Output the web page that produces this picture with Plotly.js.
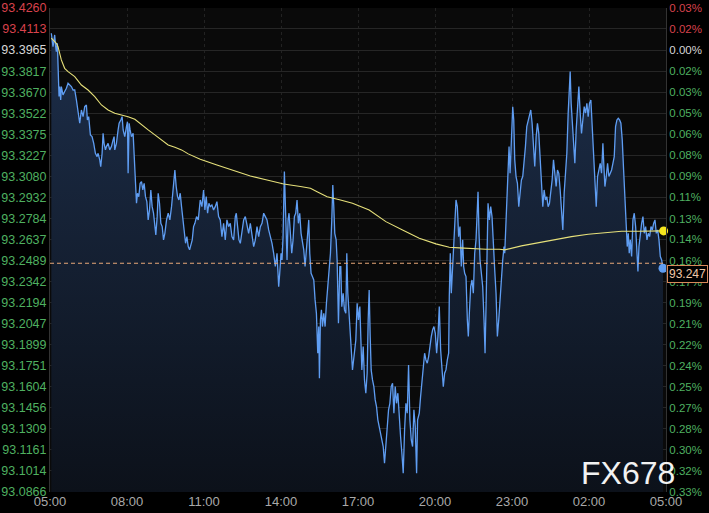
<!DOCTYPE html>
<html>
<head>
<meta charset="utf-8">
<script src="https://cdn.plot.ly/plotly-3.0.1.min.js"></script>
<style>
html,body{margin:0;padding:0;background:#000;}
#chart{width:709px;height:513px;}
</style>
</head>
<body>
<div id="chart"></div>
<script>
// ---- data: [minutes since 05:00, price] ----
const pricePoints = [
[3.1,93.4083],[5.5,93.4012],[7.0,93.3989],[9.4,93.4036],[10.9,93.4071],[13.3,93.3989],[14.8,93.3954],[17.2,93.4012],[18.7,93.3849],[21.1,93.3639],
[22.6,93.3709],[25.0,93.3615],[26.5,93.3709],[30.4,93.3650],[34.3,93.3674],[38.3,93.3697],[42.2,93.3732],[46.1,93.3720],[50.0,93.3709],[53.9,93.3685],
[57.8,93.3685],[61.7,93.3615],[64.0,93.3568],[67.1,93.3522],[69.5,93.3452],[73.4,93.3545],[77.3,93.3498],[81.2,93.3568],[85.1,93.3580],[87.4,93.3475],
[90.5,93.3498],[94.4,93.3370],[98.3,93.3358],[102.2,93.3311],[106.1,93.3241],[110.1,93.3218],[112.4,93.3241],[116.3,93.3195],[118.6,93.3148],[121.8,93.3241],
[124.1,93.3381],[126.4,93.3311],[129.6,93.3265],[131.9,93.3288],[135.8,93.3311],[139.7,93.3265],[143.6,93.3288],[147.5,93.3335],[149.9,93.3358],[151.4,93.3265],
[155.3,93.3311],[159.2,93.3405],[161.6,93.3452],[165.5,93.3475],[168.6,93.3498],[171.0,93.3405],[174.8,93.3358],[178.7,93.3428],[181.1,93.3463],[182.6,93.3101],
[185.0,93.3452],[187.3,93.3405],[190.4,93.3358],[194.3,93.3381],[196.7,93.3195],[199.8,93.3078],[202.2,93.2891],[204.5,93.2961],[207.6,93.2937],[210.7,93.3031],
[213.9,93.3043],[217.0,93.2984],[220.1,93.3031],[223.2,93.2937],[226.4,93.2902],[229.5,93.2774],[232.6,93.2844],[235.7,93.2984],[238.8,93.2867],[242.0,93.2821],
[245.1,93.2750],[247.4,93.2669],[250.5,93.2797],[252.9,93.2961],[256.0,93.2891],[259.1,93.2750],[262.3,93.2727],[265.4,93.2634],[268.5,93.2680],[272.4,93.2774],
[276.3,93.2821],[280.2,93.2774],[284.1,93.2867],[288.0,93.3008],[291.9,93.3124],[295.0,93.3008],[298.2,93.2937],[301.3,93.2914],[304.4,93.2961],[307.5,93.2867],
[311.4,93.2774],[313.8,93.2680],[316.9,93.2610],[320.0,93.2657],[323.1,93.2587],[326.3,93.2564],[329.4,93.2610],[332.5,93.2634],[335.6,93.2727],[338.7,93.2750],
[342.6,93.2797],[346.6,93.2774],
[351.2,93.2914],[355.1,93.2867],[359.0,93.2984],[362.1,93.2844],[365.2,93.2937],[368.4,93.2821],[371.5,93.2891],[374.6,93.2867],[378.5,93.2879],[382.4,93.2844],
[386.3,93.2867],[390.2,93.2902],[394.1,93.2797],[398.0,93.2774],[401.9,93.2657],[405.8,93.2750],[409.7,93.2634],[413.6,93.2774],[417.5,93.2727],[421.4,93.2750],
[425.3,93.2657],[429.3,93.2634],[433.2,93.2797],[435.5,93.2821],[438.6,93.2727],[441.7,93.2634],[444.9,93.2610],[448.8,93.2680],[452.7,93.2774],[456.6,93.2797],
[460.5,93.2727],[464.4,93.2680],[468.3,93.2750],[472.2,93.2657],[476.1,93.2587],[480.0,93.2634],[483.9,93.2727],[487.8,93.2657],[491.7,93.2727],[495.6,93.2750],
[499.5,93.2821],[503.4,93.2797],[507.3,93.2774],[511.2,93.2704],[515.1,93.2657],[519.0,93.2610],[522.9,93.2540],[526.8,93.2447],[530.7,93.2540],[534.6,93.2306],
[537.0,93.2400],[540.1,93.2540],[542.4,93.2493],[544.8,93.2657],[547.9,93.3113],[551.0,93.2867],[554.1,93.2493],[556.5,93.2774],[558.8,93.2821],[561.9,93.2680],
[565.1,93.2540],[568.2,93.2634],[571.3,93.2797],[574.4,93.2821],[577.5,93.2914],[580.7,93.2750],[583.8,93.2821],[586.9,93.2680],[590.0,93.2634],[593.2,93.2564],
[596.3,93.2447],[599.4,93.2587],[602.5,93.2704],[604.9,93.2774],[607.2,93.2540],[610.3,93.2400],[613.4,93.2377],[616.6,93.2353],[619.7,93.2213],[622.8,93.2119],
[625.9,93.1839],[628.3,93.2026],[629.8,93.1664],[632.2,93.2073],[634.5,93.2143],[636.9,93.2026],[640.0,93.2119],[643.1,93.2026],[646.2,93.2190],[649.4,93.2330],
[652.5,93.2400],[655.6,93.2540],[658.7,93.2774],[661.1,93.3019],[663.4,93.2867],[665.7,93.2680],[668.9,93.2634],[671.2,93.2493],[674.3,93.2049],[677.5,93.2447],
[679.8,93.2447],[682.1,93.2166],[685.3,93.2260],[688.4,93.2143],[691.5,93.2119],[693.8,93.2540],[696.2,93.2260],[699.3,93.2073],[702.4,93.1932],[704.8,93.1839],
[707.1,93.1722],[711.0,93.1816],[714.9,93.1932],[718.0,93.2190],[721.1,93.2073],[724.3,93.2166],[726.6,93.1839],[729.0,93.1722],[732.1,93.1886],[735.2,93.1652],
[738.3,93.1559],[741.4,93.1699],[743.8,93.2073],[746.1,93.2283],[748.5,93.1956],[750.8,93.1722],[753.9,93.1652],[757.1,93.1605],[760.2,93.1512],[763.3,93.1465],
[766.4,93.1372],[769.5,93.1325],[772.7,93.1278],[775.8,93.1255],[778.9,93.1185],[782.0,93.1068],[785.2,93.1208],[788.3,93.1278],[791.4,93.1442],[794.5,93.1488],
[797.6,93.1605],[800.8,93.1629],[803.9,93.1418],[807.0,93.1605],[810.1,93.1488],[813.2,93.1559],[816.4,93.1372],[819.5,93.1255],[822.6,93.1138],[825.7,93.0998],
[828.9,93.1302],[832.0,93.1488],[835.1,93.1418],[838.2,93.1757],[841.3,93.1372],[844.5,93.1231],[847.6,93.1185],[850.7,93.1442],[853.8,93.1325],[857.0,93.0998],
[859.3,93.1372],[863.2,93.1418],[866.3,93.1535],[869.4,93.1652],[872.6,93.1746],[875.7,93.1839],[878.8,93.1792],[881.9,93.1769],[885.1,93.1816],[888.2,93.1909],
[891.3,93.1956],[894.4,93.2003],[897.5,93.2026],[900.7,93.1979],[903.8,93.1839],[906.9,93.1956],[910.0,93.2166],[913.2,93.1862],[916.3,93.1722],[919.4,93.1605],
[922.5,93.1699],[925.6,93.1722],[928.8,93.1792],[931.9,93.1839],[933.4,93.2236],[935.8,93.2540],[938.1,93.2260],[940.5,93.2400],[942.8,93.2587],[945.9,93.2727],
[949.1,93.2914],[952.2,93.2867],[955.3,93.2657],[958.4,93.2727],[961.5,93.2447],[964.7,93.2634],[967.0,93.2447],[969.4,93.2400],[972.5,93.2377],[975.6,93.2073],
[977.9,93.1956],[980.3,93.2119],[983.4,93.2306],[986.5,93.2353],[989.6,93.2260],[992.8,93.2540],[995.9,93.2634],[998.2,93.2797],[1000.6,93.2972],[1002.9,93.2680],
[1005.3,93.2493],[1008.4,93.2400],[1011.5,93.2306],[1014.6,93.2073],[1017.0,93.1839],[1019.3,93.2166],[1021.6,93.2634],[1024.0,93.2891],[1027.1,93.2774],[1030.2,93.2867],
[1033.3,93.2797],[1036.5,93.2540],[1039.6,93.2423],[1042.7,93.2260],[1045.8,93.1956],[1049.0,93.2073],[1052.1,93.2190],[1055.2,93.2353],[1058.3,93.2493],[1061.4,93.2587],
[1063.0,93.2540],[1066.9,93.2867],[1070.8,93.3148],[1073.1,93.3288],[1075.5,93.3101],[1078.6,93.3358],[1081.7,93.3568],[1084.1,93.3475],[1086.4,93.3195],[1089.5,93.3078],
[1092.7,93.3031],[1095.8,93.2867],[1098.9,93.2961],[1102.0,93.3054],[1105.1,93.3078],[1108.3,93.3171],[1111.4,93.3288],[1114.5,93.3428],[1117.6,93.3475],[1120.8,93.3522],
[1123.9,93.3545],[1127.0,93.3452],[1130.1,93.3311],[1133.2,93.3148],[1136.4,93.3358],[1139.5,93.3452],[1142.6,93.3381],[1145.7,93.3195],[1148.9,93.2961],[1152.0,93.2867],
[1155.1,93.2984],[1158.2,93.2914],[1161.3,93.2937],[1164.5,93.2867],[1167.6,93.2891],[1170.7,93.2961],[1173.8,93.3054],[1177.0,93.3195],[1180.1,93.3078],[1183.2,93.3008],
[1186.3,93.3124],[1189.4,93.3101],[1192.6,93.2984],[1195.7,93.2867],[1198.8,93.2704],[1201.9,93.2961],[1205.1,93.3101],[1208.2,93.3241],[1211.3,93.3522],[1213.6,93.3639],
[1216.0,93.3814],[1218.3,93.3592],[1220.7,93.3475],[1223.8,93.3288],[1226.9,93.3171],[1230.0,93.3405],[1233.1,93.3592],[1236.3,93.3709],[1239.4,93.3522],[1242.5,93.3381],
[1245.6,93.3475],[1248.8,93.3568],[1251.9,93.3522],[1255.0,93.3592],[1258.1,93.3498],[1261.2,93.3592],[1264.4,93.3615],[1267.5,93.3405],[1270.6,93.3195],[1273.7,93.3008],
[1276.9,93.2867],[1280.0,93.3078],[1283.1,93.3124],[1286.2,93.3171],[1289.3,93.3101],[1292.5,93.3311],[1294.8,93.3148],[1297.2,93.3008],[1300.3,93.3078],[1303.4,93.3171],
[1306.5,93.3078],[1309.6,93.3101],[1312.8,93.3124],[1315.9,93.3171],[1319.0,93.3218],[1322.1,93.3428],[1325.3,93.3475],[1328.4,93.3487],[1331.5,93.3475],[1334.6,93.3452],
[1337.7,93.3335],[1340.9,93.3124],[1344.0,93.2961],[1347.1,93.2774],[1349.4,93.2587],[1351.8,93.2680],[1354.1,93.2540],[1356.5,93.2634],[1359.6,93.2517],[1362.7,93.2774],
[1365.8,93.2821],[1369.0,93.2727],[1372.1,93.2540],[1374.4,93.2412],[1376.8,93.2587],[1379.9,93.2680],[1383.0,93.2750],[1386.1,93.2797],[1389.2,93.2680],[1392.4,93.2727],
[1395.5,93.2634],[1398.6,93.2680],[1401.7,93.2657],[1404.9,93.2727],[1408.0,93.2704],[1411.1,93.2750],[1414.2,93.2774],[1417.3,93.2680],[1420.5,93.2704],[1423.6,93.2634],
[1426.7,93.2517],[1429.8,93.2493],[1433.0,93.2435]
];
// average price line: [minutes since 05:00, price]
const avgPoints = [
[3.1,93.4048],[14.8,93.4012],[18.7,93.3989],[26.5,93.3896],[34.3,93.3837],[42.2,93.3814],[57.8,93.3779],[73.4,93.3720],[89.0,93.3685],[104.6,93.3639],
[120.2,93.3580],[135.8,93.3545],[151.4,93.3522],[167.0,93.3510],[182.6,93.3498],[198.3,93.3480],[213.9,93.3440],[229.5,93.3405],[245.1,93.3370],[260.7,93.3335],
[276.3,93.3300],[291.9,93.3283],[307.5,93.3265],[323.1,93.3237],[338.7,93.3213],[351.2,93.3199],[390.2,93.3159],[429.3,93.3120],[468.3,93.3082],[507.3,93.3054],
[546.3,93.3026],[585.4,93.3008],[608.8,93.2996],[624.4,93.2972],[647.8,93.2937],[679.0,93.2914],[707.1,93.2891],[746.1,93.2844],[785.2,93.2762],[824.2,93.2704],
[863.2,93.2645],[902.2,93.2606],[933.4,93.2582],[956.9,93.2578],[980.3,93.2573],[1019.3,93.2568],[1050.5,93.2568],[1063.0,93.2564],[1102.0,93.2592],[1141.1,93.2615],
[1180.1,93.2634],[1219.1,93.2657],[1258.1,93.2673],[1297.2,93.2685],[1336.2,93.2694],[1375.2,93.2694],[1414.2,93.2697],[1434.5,93.2697]
];
const lastPrice = 93.247;
const priceTicks = ['93.4260','93.4113','93.3965','93.3817','93.3670','93.3522','93.3375','93.3227','93.3080','93.2932','93.2784','93.2637',
                    '93.2489','93.2342','93.2194','93.2047','93.1899','93.1751','93.1604','93.1456','93.1309','93.1161','93.1014','93.0866'];
const pctTicks = ['0.03%','0.02%','0.00%','0.02%','0.03%','0.05%','0.06%','0.08%','0.09%','0.11%','0.13%','0.14%',
                  '0.16%','0.17%','0.19%','0.21%','0.22%','0.24%','0.25%','0.27%','0.28%','0.30%','0.32%','0.33%'];
const timeTickVals = [0,180,360,540,720,900,1080,1260,1440];
const timeTickText = ['05:00','08:00','11:00','14:00','17:00','20:00','23:00','02:00','05:00'];

// ---- styling ----
const RED = '#d8424c', WHITE = '#d6d6d6', GREEN = '#4fb060';
function colorFor(i){ return i < 2 ? RED : (i === 2 ? WHITE : GREEN); }
const tickVals = priceTicks.map(Number);
const leftText = priceTicks.map((t,i)=>'<span style="color:'+colorFor(i)+'">'+t+'</span>');
const rightText = pctTicks.map((t,i)=>'<span style="color:'+colorFor(i)+'">'+t+'</span>');
const yMin = tickVals[tickVals.length-1], yMax = tickVals[0];

const px = pricePoints.map(p=>p[0]), py = pricePoints.map(p=>p[1]);
const ax = avgPoints.map(p=>p[0]), ay = avgPoints.map(p=>p[1]);

const traces = [
  {x:px, y:py, type:'scatter', mode:'lines', line:{color:'#5f9df2', width:1.3},
   fill:'tozeroy',
   fillgradient:{type:'vertical', start:yMin, stop:93.40,
     colorscale:[[0,'rgba(12,17,26,1)'],[1,'rgba(28,45,72,1)']]},
   hoverinfo:'skip'},
  {x:ax, y:ay, type:'scatter', mode:'lines', line:{color:'#e6e07a', width:1.1}, hoverinfo:'skip'},
  {x:[ax[ax.length-1]], y:[ay[ay.length-1]], type:'scatter', mode:'markers', cliponaxis:false,
   marker:{color:'#f5e51e', size:9}, hoverinfo:'skip'},
  {x:[px[px.length-1]], y:[py[py.length-1]], type:'scatter', mode:'markers', cliponaxis:false,
   marker:{color:'#5f9df2', size:9}, hoverinfo:'skip'},
  {x:[0,1440], y:[yMin,yMax], yaxis:'y2', type:'scatter', mode:'markers', marker:{opacity:0}, hoverinfo:'skip'}
];

const layout = {
  width:709, height:513,
  margin:{l:50, r:43, t:8, b:21},
  paper_bgcolor:'#000000', plot_bgcolor:'#0a0a0a',
  showlegend:false,
  font:{family:'"Liberation Sans", Arial, sans-serif'},
  xaxis:{range:[0,1440], tickmode:'array', tickvals:timeTickVals, ticktext:timeTickText,
         showgrid:true, gridcolor:'#222222', griddash:'dot', gridwidth:1,
         zeroline:false, showline:false, ticks:'',
         tickfont:{family:'"Liberation Sans Narrow", "Arial Narrow", sans-serif', size:13, color:'#a9a9a9'}},
  yaxis:{range:[yMin,yMax], tickmode:'array', tickvals:tickVals, ticktext:leftText,
         showgrid:true, gridcolor:'#262626', gridwidth:1, zeroline:false,
         showline:true, linecolor:'#333333', ticks:'',
         tickfont:{size:12.5, color:GREEN}},
  yaxis2:{range:[yMin,yMax], overlaying:'y', side:'right', tickmode:'array', tickvals:tickVals, ticktext:rightText,
          showgrid:false, zeroline:false, showline:true, linecolor:'#333333', ticks:'',
          tickfont:{size:11.5, color:GREEN}},
  shapes:[
    {type:'line', xref:'paper', x0:0, x1:1, yref:'y', y0:lastPrice, y1:lastPrice,
     line:{color:'#e8a878', width:1, dash:'4px,3px'}}
  ],
  annotations:[
    {xref:'paper', x:1, xanchor:'left', yref:'y', y:lastPrice, yanchor:'top', yshift:-2, xshift:1,
     text:String(lastPrice), showarrow:false, bgcolor:'#000000', bordercolor:'#d9885a', borderwidth:1, borderpad:1,
     font:{size:12, color:'#f0c8a8'}},
    {xref:'paper', x:0.938, xanchor:'center', yref:'paper', y:0.04, yanchor:'middle',
     text:'FX678', showarrow:false, font:{size:32, color:'#f2f2f2', family:'"Liberation Sans", Arial, sans-serif'}}
  ]
};

Plotly.newPlot('chart', traces, layout, {staticPlot:true, displayModeBar:false});
</script>
</body>
</html>
